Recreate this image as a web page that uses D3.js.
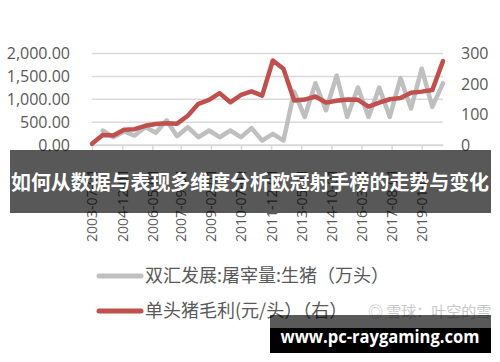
<!DOCTYPE html>
<html>
<head>
<meta charset="utf-8">
<script src="https://cdn.jsdelivr.net/npm/d3@7"></script>
<style>
  html, body { margin: 0; padding: 0; background: #fff; }
  svg { display: block; }
  .ax text { font-family: "Open Sans", "DejaVu Sans", sans-serif; font-size: 16px; fill: #595959; }
  .ax.bx text { font-size: 14px; }
  .lg text { font-family: "Noto Sans CJK SC", sans-serif; font-size: 18px; fill: #595959; }
</style>
</head>
<body>
<svg id="chart" width="500" height="362"></svg>
<script>
// 半年度数据点（日期轴）
const dates = [
  "2003-06-30","2003-12-31","2004-06-30","2004-12-31","2005-06-30","2005-12-31",
  "2006-06-30","2006-12-31","2007-06-30","2007-12-31","2008-06-30","2008-12-31",
  "2009-06-30","2009-12-31","2010-06-30","2010-12-31","2011-06-30","2011-12-31",
  "2012-06-30","2012-12-31","2013-06-30","2013-12-31","2014-06-30","2014-12-31",
  "2015-06-30","2015-12-31","2016-06-30","2016-12-31","2017-06-30","2017-12-31",
  "2018-06-30","2018-12-31","2019-06-30","2019-12-31"
];
// 双汇发展:屠宰量:生猪（万头） — 左轴
const slaughter = [
  null, 317, 170, 295, 207, 391, 266, 539, 192, 391, 170, 317,
  170, 317, 170, 369, 96, 244, 96, 1166, 613, 1351, 760, 1520,
  613, 1255, 613, 1255, 613, 1461, 797, 1668, 834, 1351
];
// 单头猪毛利(元/头) — 右轴
const margin = [
  4, 33, 31, 50, 52, 63, 69, 71, 70, 96, 135, 148,
  170, 140, 164, 176, 162, 277, 250, 146, 149, 159, 139, 145,
  149, 148, 126, 139, 150, 154, 171, 175, 180, 275
];
const tickDates = ["2003-07-01","2004-12-01","2006-05-01","2007-09-01","2009-02-01","2010-07-01",
                   "2011-12-01","2013-05-01","2014-10-01","2016-03-01","2017-08-01","2019-01-01"];
const leftTicks = [0, 500, 1000, 1500, 2000];
const rightTicks = [0, 100, 200, 300];
const legendNames = ["双汇发展:屠宰量:生猪（万头）", "单头猪毛利(元/头）（右）"];
const colors = ["#bfbfbf", "#c0504d"];

const parse = d3.timeParse("%Y-%m-%d");
const svg = d3.select("#chart");
const L = 92, R = 443, T = 53.5, B = 145;

const x = d3.scaleTime().domain([parse(dates[0]), parse(dates[dates.length - 1])]).range([L, R]);
const yL = d3.scaleLinear().domain([0, 2000]).range([B, T]);
const yR = d3.scaleLinear().domain([0, 300]).range([B, T]);

// 网格线
svg.append("g").selectAll("line").data(leftTicks).join("line")
  .attr("x1", L).attr("x2", R)
  .attr("y1", d => yL(d)).attr("y2", d => yL(d))
  .attr("stroke", "#d9d9d9").attr("stroke-width", 1.5);

// 左轴
const gl = svg.append("g").attr("class", "ax").attr("transform", `translate(${L},0)`)
  .call(d3.axisLeft(yL).tickValues(leftTicks).tickSize(0).tickPadding(22).tickFormat(d3.format(",.2f")));
gl.select(".domain").remove();

// 右轴
const gr = svg.append("g").attr("class", "ax").attr("transform", `translate(${R},0)`)
  .call(d3.axisRight(yR).tickValues(rightTicks).tickSize(0).tickPadding(18));
gr.select(".domain").remove();

// 底轴（日期）
const gx = svg.append("g").attr("class", "ax bx").attr("transform", `translate(0,${B})`)
  .call(d3.axisBottom(x).tickValues(tickDates.map(parse)).tickSize(5).tickSizeOuter(0)
    .tickFormat(d3.timeFormat("%Y-%m-%d")));
gx.select(".domain").attr("stroke", "#d9d9d9").attr("stroke-width", 1.5);
gx.selectAll(".tick line").attr("stroke", "#d9d9d9").attr("stroke-width", 1.5);
gx.selectAll(".tick text")
  .attr("transform", "rotate(-90)")
  .attr("text-anchor", "start")
  .attr("x", -97).attr("y", 0).attr("dy", "0.35em");

// 折线
const line1 = d3.line().defined(d => d[1] != null).x(d => x(parse(d[0]))).y(d => yL(d[1]));
const line2 = d3.line().x(d => x(parse(d[0]))).y(d => yR(d[1]));
svg.append("path").datum(dates.map((d, i) => [d, slaughter[i]]))
  .attr("d", line1).attr("fill", "none").attr("stroke", colors[0])
  .attr("stroke-width", 4.5).attr("stroke-linejoin", "round").attr("stroke-linecap", "round");
svg.append("path").datum(dates.map((d, i) => [d, margin[i]]))
  .attr("d", line2).attr("fill", "none").attr("stroke", colors[1])
  .attr("stroke-width", 4.5).attr("stroke-linejoin", "round").attr("stroke-linecap", "round");

// 图例
const lg = svg.append("g").attr("class", "lg");
legendNames.forEach((name, i) => {
  const cy = i === 0 ? 276 : 311;
  lg.append("line").attr("x1", 99).attr("x2", 141).attr("y1", cy).attr("y2", cy)
    .attr("stroke", colors[i]).attr("stroke-width", 5).attr("stroke-linecap", "round");
  lg.append("text").attr("x", 145).attr("y", cy).attr("dy", "0.36em").text(name);
});

// 水印
svg.append("text").attr("x", 368).attr("y", 312).attr("dy", "0.36em")
  .attr("font-family", "Noto Sans CJK SC, sans-serif").attr("font-size", 15)
  .attr("fill", "#c8c8c8").text("◎ 雪球：叶空的雪");

// 标题横幅（半透明）
svg.append("rect").attr("x", 10).attr("y", 150).attr("width", 481).attr("height", 63)
  .attr("fill", "#000").attr("fill-opacity", 0.655);
svg.append("text").attr("x", 250).attr("y", 183).attr("dy", "0.36em").attr("text-anchor", "middle")
  .attr("font-family", "Noto Sans CJK SC, sans-serif").attr("font-weight", 700).attr("font-size", 20)
  .attr("textLength", 478).attr("lengthAdjust", "spacingAndGlyphs")
  .attr("fill", "#fff").text("如何从数据与表现多维度分析欧冠射手榜的走势与变化");

// 网址框
svg.append("rect").attr("x", 270).attr("y", 315).attr("width", 221).attr("height", 14)
  .attr("fill", "#000").attr("fill-opacity", 0.65);
svg.append("rect").attr("x", 270).attr("y", 328).attr("width", 221).attr("height", 25).attr("fill", "#000");
svg.append("text").attr("x", 380).attr("y", 337).attr("dy", "0.36em").attr("text-anchor", "middle")
  .attr("font-family", "Open Sans, sans-serif").attr("font-weight", 700).attr("font-size", 17)
  .attr("textLength", 199).attr("lengthAdjust", "spacingAndGlyphs")
  .attr("fill", "#fff").text("www.pc-raygaming.com");
</script>
</body>
</html>
